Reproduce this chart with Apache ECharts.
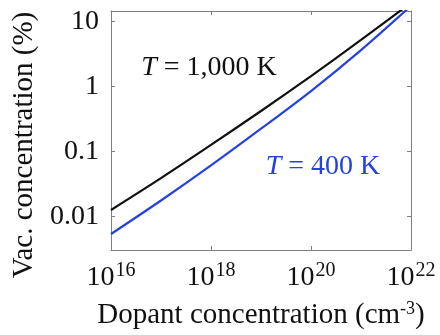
<!DOCTYPE html>
<html>
<head>
<meta charset="utf-8">
<script src="https://cdn.jsdelivr.net/npm/echarts@6/dist/echarts.min.js"></script>
<style>
  html, body { margin: 0; padding: 0; background: #fff; }
  #chart { width: 440px; height: 335px; }
</style>
</head>
<body>
<div id="chart"></div>
<script>
// Dopant concentration (cm^-3) and vacancy concentration (%) at two temperatures
const dopant = [1e16, 1e17, 1e18, 1e19, 1e20, 1e21, 1e22];
const vac1000K = [0.0126, 0.0389, 0.126, 0.420, 1.445, 5.20, 19.4];
const vac400K = [0.00537, 0.0176, 0.0610, 0.224, 0.851, 3.63, 17.4];

// Axis extents
const xRange = [1e16, 1e22];
const yRange = [0.00305, 14.5];

// Curve labels and where they sit (data coordinates)
const label1000K = { text: '{i|T} = 1,000 K', at: [9.1e17, 1.93] };
const label400K = { text: '{i|T} = 400 K', at: [1.74e20, 0.058] };

const FONT = 'Liberation Serif';
const BLACK = '#111111';
const BLUE = '#2442e0';
const AXIS_GREY = '#7f7f7f';

const toPairs = (xs, ys) => xs.map((x, i) => [x, ys[i]]);

function expLabel(v) {
  const e = Math.round(Math.log10(v));
  return '{b|10}{s|' + e + '}';
}
function plainLabel(v) {
  return String(Number(v.toPrecision(1)));
}

function curveLabel(cfg, color) {
  return {
    symbol: 'circle',
    symbolSize: 1,
    itemStyle: { color: 'rgba(0,0,0,0)' },
    silent: true,
    data: [{ coord: cfg.at }],
    label: {
      show: true,
      position: 'inside',
      formatter: cfg.text,
      fontFamily: FONT,
      fontSize: 28,
      color: color,
      rich: {
        i: { fontFamily: FONT, fontSize: 28, fontStyle: 'italic', color: color }
      }
    }
  };
}

const xBase = {
  type: 'log',
  logBase: 10,
  min: xRange[0],
  max: xRange[1],
  interval: 2,
  splitLine: { show: false },
  minorTick: { show: false },
  axisLine: { show: true, lineStyle: { color: AXIS_GREY, width: 1 } },
  axisTick: { show: true, inside: true, length: 4, lineStyle: { color: AXIS_GREY } }
};
const yBase = {
  type: 'log',
  logBase: 10,
  min: yRange[0],
  max: yRange[1],
  splitLine: { show: false },
  minorTick: { show: false },
  axisLine: { show: true, lineStyle: { color: AXIS_GREY, width: 1 } },
  axisTick: { show: true, inside: true, length: 4, lineStyle: { color: AXIS_GREY } }
};

const chart = echarts.init(document.getElementById('chart'), null, { renderer: 'canvas' });

chart.setOption({
  animation: false,
  backgroundColor: '#ffffff',
  grid: { left: 111, top: 11, right: 29, bottom: 85, containLabel: false },
  xAxis: [
    Object.assign({}, xBase, {
      position: 'bottom',
      name: 'Dopant concentration (cm{sup|-3})',
      nameLocation: 'middle',
      nameGap: 50,
      nameTextStyle: {
        fontFamily: FONT, fontSize: 29, color: '#111',
        rich: { sup: { fontFamily: FONT, fontSize: 18, color: '#111', verticalAlign: 'top', padding: [0, 0, 12, 0] } }
      },
      axisLabel: {
        show: true,
        margin: 11,
        showMinLabel: true,
        showMaxLabel: true,
        formatter: expLabel,
        rich: {
          b: { fontFamily: FONT, fontSize: 28, color: '#111' },
          s: { fontFamily: FONT, fontSize: 20, color: '#111', verticalAlign: 'top', padding: [0, 0, 14, 1] }
        }
      }
    }),
    Object.assign({}, xBase, {
      position: 'top',
      axisLabel: { show: false }
    })
  ],
  yAxis: [
    Object.assign({}, yBase, {
      position: 'left',
      name: 'Vac. concentration (%)',
      nameLocation: 'middle',
      nameGap: 69,
      nameRotate: 90,
      nameTextStyle: { fontFamily: FONT, fontSize: 29, color: '#111', padding: [0, 29, 0, 0] },
      axisLabel: {
        show: true,
        margin: 12,
        showMinLabel: false,
        showMaxLabel: false,
        fontFamily: FONT,
        fontSize: 28,
        color: '#111',
        formatter: plainLabel
      }
    }),
    Object.assign({}, yBase, {
      position: 'right',
      axisLabel: { show: false }
    })
  ],
  series: [
    {
      name: 'T = 1,000 K',
      type: 'line',
      xAxisIndex: 0,
      yAxisIndex: 0,
      data: toPairs(dopant, vac1000K),
      showSymbol: false,
      smooth: 0.3,
      clip: true,
      lineStyle: { color: BLACK, width: 2.2 },
      markPoint: curveLabel(label1000K, BLACK)
    },
    {
      name: 'T = 400 K',
      type: 'line',
      xAxisIndex: 0,
      yAxisIndex: 0,
      data: toPairs(dopant, vac400K),
      showSymbol: false,
      smooth: 0.3,
      clip: true,
      lineStyle: { color: BLUE, width: 2.2 },
      markPoint: curveLabel(label400K, BLUE)
    }
  ]
});
</script>
</body>
</html>
